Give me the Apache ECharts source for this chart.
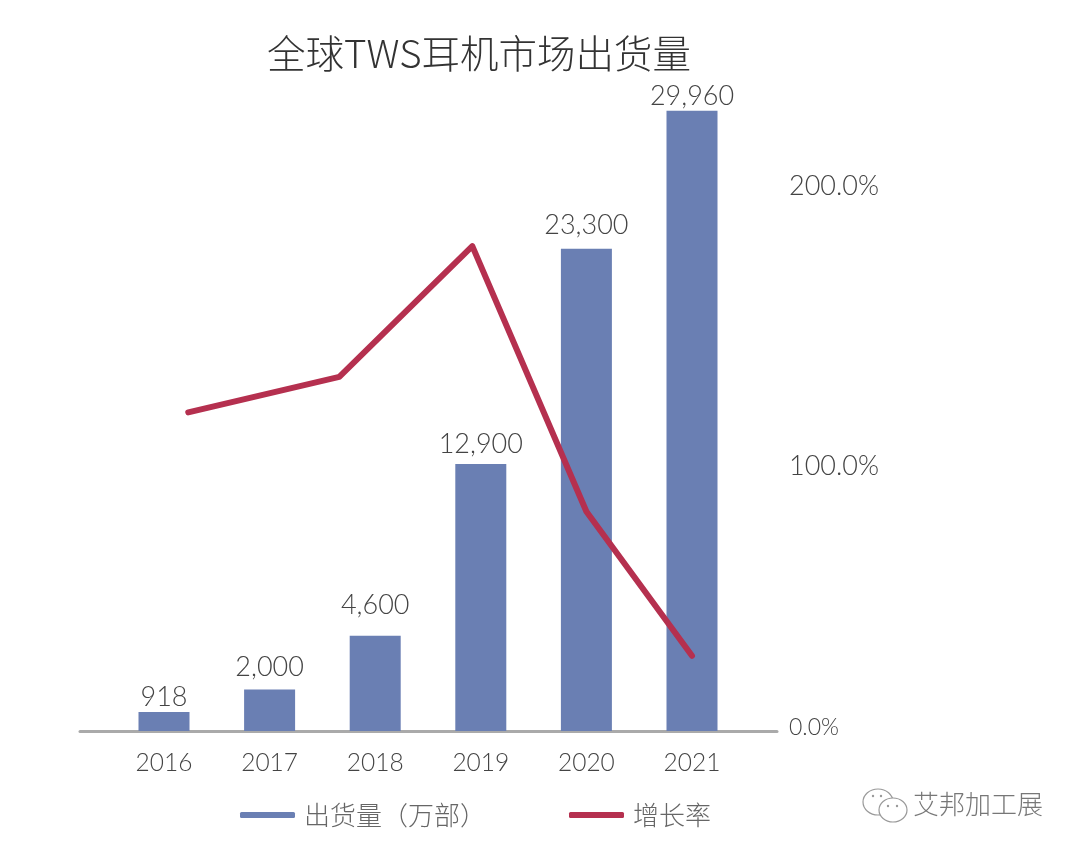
<!DOCTYPE html>
<html><head><meta charset="utf-8">
<style>html,body{margin:0;padding:0;background:#fff}#c{width:1080px;height:855px}</style>
<script src="https://cdn.jsdelivr.net/npm/echarts@6/dist/echarts.min.js"></script>
</head><body><div id="c"></div>
<script>
const categories = ['2016','2017','2018','2019','2020','2021'];
const shipments = [918,2000,4600,12900,23300,29960];
const growthYearPos = [2016.23,2017.66,2018.92,2020.0,2021.0];
const growthRate = [117,130,178,80.6,27.6];
const rateTicks = [0,100,200];
const labelShift = [3,-5,-13,-2,-6,3];
const latin = 'Lato, "Noto Sans CJK SC", sans-serif';
const cjk = '"Noto Sans CJK SC", sans-serif';
const chart = echarts.init(document.getElementById('c'), null, {renderer:'canvas'});
chart.setOption({
  backgroundColor:'#fff',
  animation:false,
  title:{text:'全球TWS耳机市场出货量',left:474,textAlign:'center',top:29,
    textStyle:{fontFamily:cjk,fontWeight:300,fontSize:38.5,color:'#333'}},
  legend:{left:235,top:797,itemWidth:55,itemHeight:6,itemGap:83,icon:'roundRect',
    data:['出货量（万部）','增长率'],
    textStyle:{fontFamily:cjk,fontWeight:300,fontSize:26,color:'#666',padding:[0,0,0,4]}},
  grid:[
    {left:111.2,width:633.6,top:110,bottom:124},
    {left:80,width:697,top:110,bottom:124}
  ],
  xAxis:[
    {type:'category',gridIndex:0,data:categories,
     axisLine:{show:false},axisTick:{show:false},
     axisLabel:{margin:20,fontFamily:latin,fontSize:24.5,fontWeight:300,color:'#444'}},
    {type:'value',gridIndex:1,min:2015.205,max:2021.805,
     axisLine:{show:true,onZero:false,lineStyle:{color:'#aaa',width:3}},
     axisTick:{show:false},axisLabel:{show:false},splitLine:{show:false}}
  ],
  yAxis:[
    {type:'value',gridIndex:0,min:0,max:30000,show:false,splitLine:{show:false}},
    {type:'value',gridIndex:1,position:'right',min:0,max:228,
     customValues:rateTicks,
     axisLine:{show:false},axisTick:{show:false},splitLine:{show:false},
     axisLabel:{margin:12,customValues:rateTicks,fontFamily:latin,fontSize:27,fontWeight:300,color:'#444',
       formatter:function(v){
         const t=v.toFixed(1)+'%';
         return v===100?'{d|'+t+'}':v===0?'{u|'+t+'}':t;
       },
       rich:{
         d:{fontFamily:latin,fontSize:27,fontWeight:300,color:'#444',padding:[16,0,0,0]},
         u:{fontFamily:latin,fontSize:23,fontWeight:300,color:'#444',padding:[0,0,6,0]}
       }}}
  ],
  series:[
    {name:'出货量（万部）',type:'bar',xAxisIndex:0,yAxisIndex:0,
     data:shipments.map((v,i)=>({value:v,label:{offset:[0,labelShift[i]]}})),barWidth:51,
     itemStyle:{color:'#6a7fb3'},
     label:{show:true,position:'top',distance:4,fontFamily:latin,fontSize:27,fontWeight:300,color:'#444',
       formatter:p=>p.value.toLocaleString('en-US')}},
    {name:'增长率',type:'line',xAxisIndex:1,yAxisIndex:1,z:5,
     data:growthYearPos.map((x,i)=>[x,growthRate[i]]),
     showSymbol:false,symbol:'none',
     lineStyle:{color:'#b5304f',width:6,cap:'round',join:'round'},
     itemStyle:{color:'#b5304f'}}
  ],
  graphic:[
    {type:'text',left:913,top:791,style:{text:'艾邦加工展',fontFamily:cjk,fontWeight:300,fontSize:26,fill:'#777'}},
    {type:'ellipse',shape:{cx:878,cy:802,rx:15,ry:13},style:{fill:'#fff',stroke:'#999',lineWidth:1.2}},
    {type:'ellipse',shape:{cx:893,cy:810,rx:14,ry:12},style:{fill:'#fff',stroke:'#999',lineWidth:1.2}},
    {type:'circle',shape:{cx:873,cy:796,r:1.2},style:{fill:'#999'}},
    {type:'circle',shape:{cx:881,cy:796,r:1.2},style:{fill:'#999'}},
    {type:'circle',shape:{cx:888,cy:806,r:1.2},style:{fill:'#999'}},
    {type:'circle',shape:{cx:897,cy:806,r:1.2},style:{fill:'#999'}}
  ]
});
</script></body></html>
